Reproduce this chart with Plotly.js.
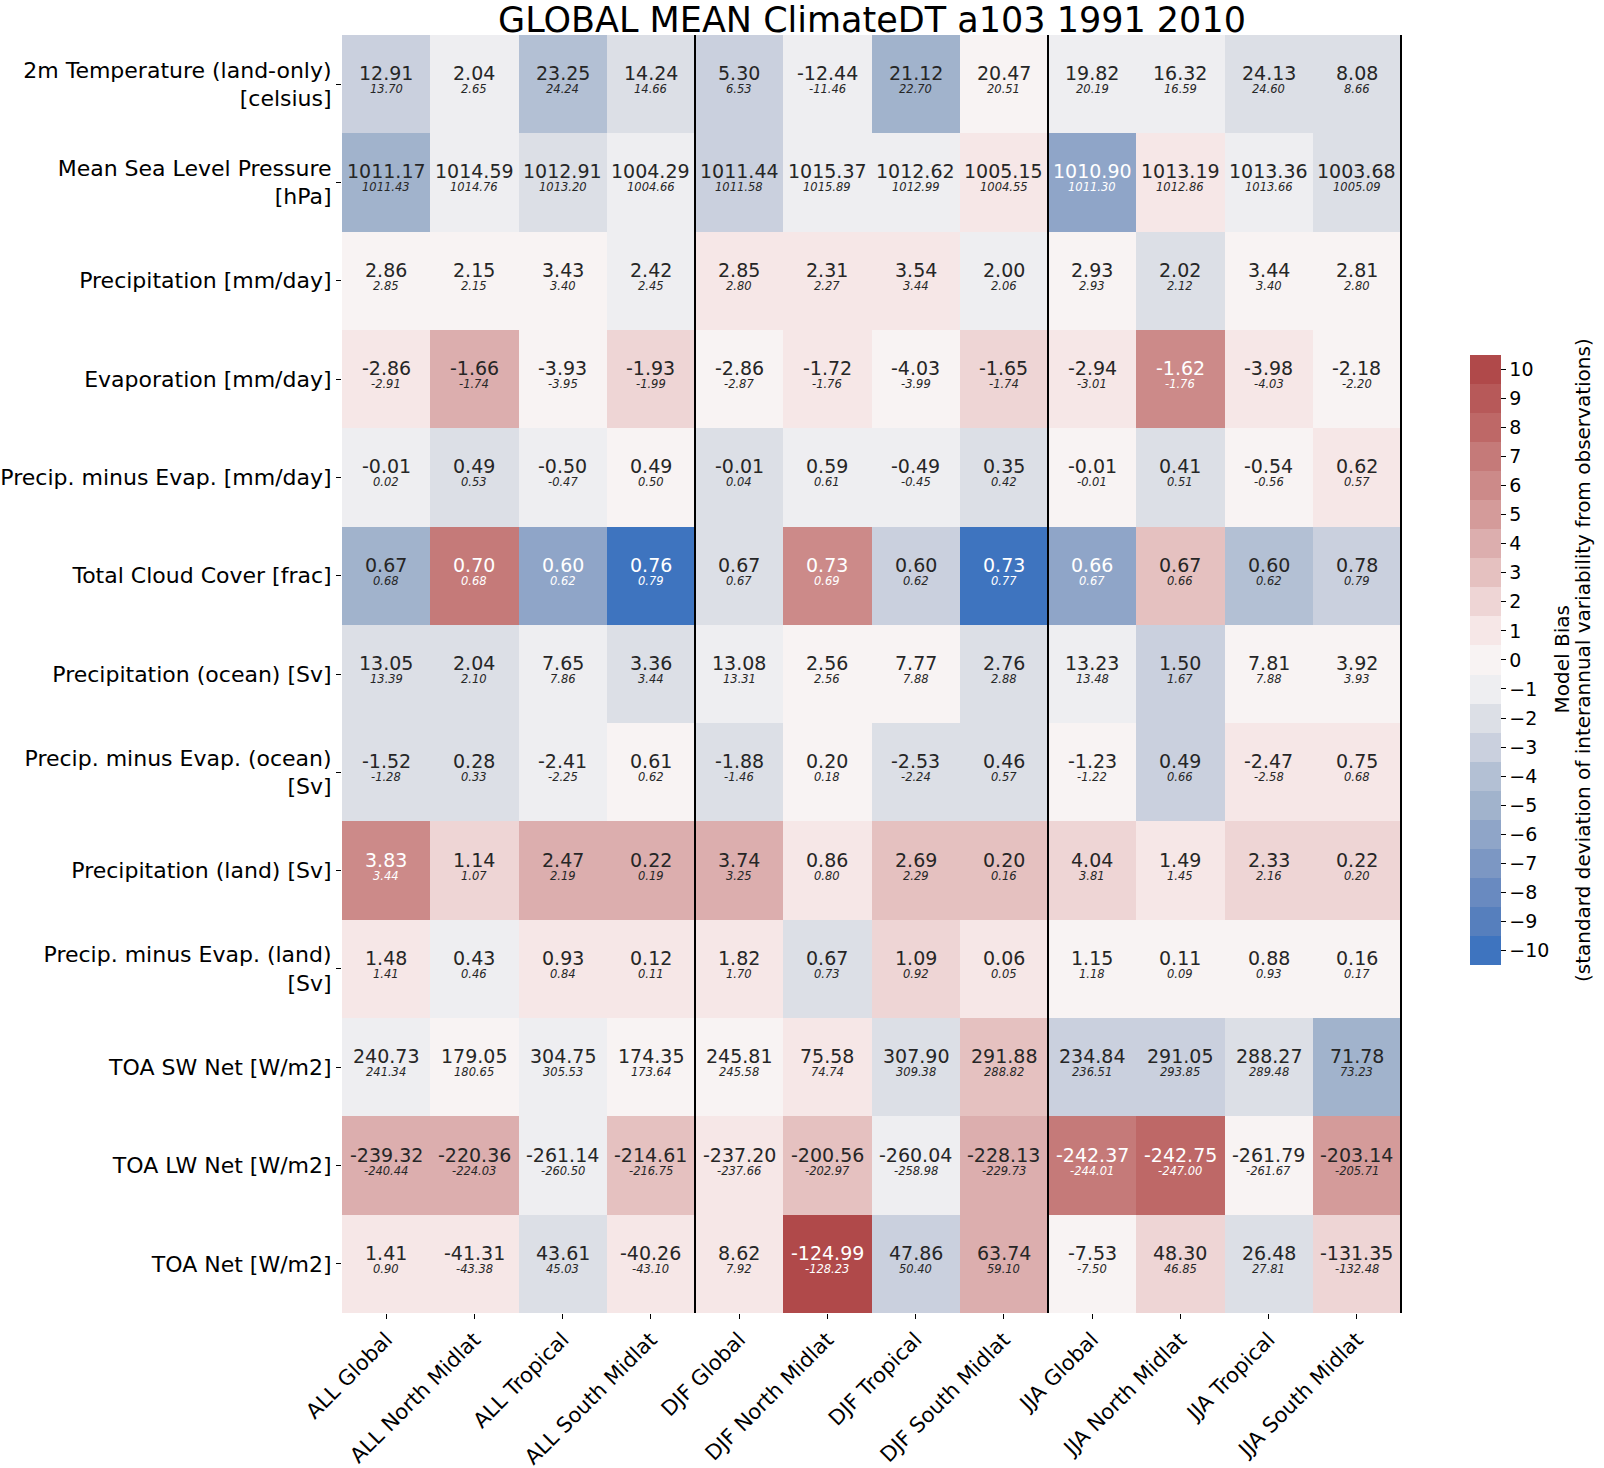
<!DOCTYPE html>
<html><head><meta charset="utf-8">
<script src="https://cdn.plot.ly/plotly-3.0.1.min.js"></script>
<style>html,body{margin:0;padding:0;background:#fff}#chart{width:1604px;height:1468px}</style>
</head><body><div id="chart"></div>
<script>
const columns = ["ALL Global","ALL North Midlat","ALL Tropical","ALL South Midlat",
  "DJF Global","DJF North Midlat","DJF Tropical","DJF South Midlat",
  "JJA Global","JJA North Midlat","JJA Tropical","JJA South Midlat"];
const rows = ["2m Temperature (land-only)<br>[celsius]","Mean Sea Level Pressure<br>[hPa]",
  "Precipitation [mm/day]","Evaporation [mm/day]","Precip. minus Evap. [mm/day]",
  "Total Cloud Cover [frac]","Precipitation (ocean) [Sv]","Precip. minus Evap. (ocean)<br>[Sv]",
  "Precipitation (land) [Sv]","Precip. minus Evap. (land)<br>[Sv]","TOA SW Net [W/m2]",
  "TOA LW Net [W/m2]","TOA Net [W/m2]"];
const modelValues = [
  [12.91, 2.04, 23.25, 14.24, 5.30, -12.44, 21.12, 20.47, 19.82, 16.32, 24.13, 8.08],
  [1011.17, 1014.59, 1012.91, 1004.29, 1011.44, 1015.37, 1012.62, 1005.15, 1010.90, 1013.19, 1013.36, 1003.68],
  [2.86, 2.15, 3.43, 2.42, 2.85, 2.31, 3.54, 2.00, 2.93, 2.02, 3.44, 2.81],
  [-2.86, -1.66, -3.93, -1.93, -2.86, -1.72, -4.03, -1.65, -2.94, -1.62, -3.98, -2.18],
  [-0.01, 0.49, -0.50, 0.49, -0.01, 0.59, -0.49, 0.35, -0.01, 0.41, -0.54, 0.62],
  [0.67, 0.70, 0.60, 0.76, 0.67, 0.73, 0.60, 0.73, 0.66, 0.67, 0.60, 0.78],
  [13.05, 2.04, 7.65, 3.36, 13.08, 2.56, 7.77, 2.76, 13.23, 1.50, 7.81, 3.92],
  [-1.52, 0.28, -2.41, 0.61, -1.88, 0.20, -2.53, 0.46, -1.23, 0.49, -2.47, 0.75],
  [3.83, 1.14, 2.47, 0.22, 3.74, 0.86, 2.69, 0.20, 4.04, 1.49, 2.33, 0.22],
  [1.48, 0.43, 0.93, 0.12, 1.82, 0.67, 1.09, 0.06, 1.15, 0.11, 0.88, 0.16],
  [240.73, 179.05, 304.75, 174.35, 245.81, 75.58, 307.90, 291.88, 234.84, 291.05, 288.27, 71.78],
  [-239.32, -220.36, -261.14, -214.61, -237.20, -200.56, -260.04, -228.13, -242.37, -242.75, -261.79, -203.14],
  [1.41, -41.31, 43.61, -40.26, 8.62, -124.99, 47.86, 63.74, -7.53, 48.30, 26.48, -131.35]
];
const obsValues = [
  [13.70, 2.65, 24.24, 14.66, 6.53, -11.46, 22.70, 20.51, 20.19, 16.59, 24.60, 8.66],
  [1011.43, 1014.76, 1013.20, 1004.66, 1011.58, 1015.89, 1012.99, 1004.55, 1011.30, 1012.86, 1013.66, 1005.09],
  [2.85, 2.15, 3.40, 2.45, 2.80, 2.27, 3.44, 2.06, 2.93, 2.12, 3.40, 2.80],
  [-2.91, -1.74, -3.95, -1.99, -2.87, -1.76, -3.99, -1.74, -3.01, -1.76, -4.03, -2.20],
  [0.02, 0.53, -0.47, 0.50, 0.04, 0.61, -0.45, 0.42, -0.01, 0.51, -0.56, 0.57],
  [0.68, 0.68, 0.62, 0.79, 0.67, 0.69, 0.62, 0.77, 0.67, 0.66, 0.62, 0.79],
  [13.39, 2.10, 7.86, 3.44, 13.31, 2.56, 7.88, 2.88, 13.48, 1.67, 7.88, 3.93],
  [-1.28, 0.33, -2.25, 0.62, -1.46, 0.18, -2.24, 0.57, -1.22, 0.66, -2.58, 0.68],
  [3.44, 1.07, 2.19, 0.19, 3.25, 0.80, 2.29, 0.16, 3.81, 1.45, 2.16, 0.20],
  [1.41, 0.46, 0.84, 0.11, 1.70, 0.73, 0.92, 0.05, 1.18, 0.09, 0.93, 0.17],
  [241.34, 180.65, 305.53, 173.64, 245.58, 74.74, 309.38, 288.82, 236.51, 293.85, 289.48, 73.23],
  [-240.44, -224.03, -260.50, -216.75, -237.66, -202.97, -258.98, -229.73, -244.01, -247.00, -261.67, -205.71],
  [0.90, -43.38, 45.03, -43.10, 7.92, -128.23, 50.40, 59.10, -7.50, 46.85, 27.81, -132.48]
];
const modelBias = [
  [-3, -1, -4, -2, -3, -1, -5, 0, -1, -1, -2, -2],
  [-5, -1, -2, -1, -3, -1, -1, 1, -6, 1, -1, -2],
  [0, 0, 0, -1, 1, 1, 1, -1, 0, -2, 0, 0],
  [1, 4, 0, 2, 0, 1, 0, 2, 1, 6, 1, 0],
  [-1, -2, -1, 0, -2, -1, -1, -2, 0, -2, 0, 1],
  [-5, 7, -6, -10, -2, 6, -3, -10, -6, 3, -4, -3],
  [-2, -2, -1, -2, -1, 0, 0, -2, -1, -3, 0, 0],
  [-2, -2, -1, 0, -2, 0, -2, -2, 0, -3, 1, 1],
  [6, 2, 4, 4, 4, 1, 3, 3, 2, 1, 2, 2],
  [1, -1, 1, 1, 1, -2, 2, 1, 0, 0, 0, 0],
  [-1, 0, -1, 0, 0, 1, -2, 3, -3, -3, -2, -5],
  [4, 4, -1, 3, 1, 3, -1, 4, 7, 8, 0, 5],
  [1, 1, -2, 1, 1, 10, -3, 4, 0, 2, -2, 2]
];
const colorbarTicks = [-10,-9,-8,-7,-6,-5,-4,-3,-2,-1,0,1,2,3,4,5,6,7,8,9,10];
const colorbarTitle = ["Model Bias", "(standard deviation of interannual variability from observations)"];

// 21 discrete colour levels, from -10 up to +10
const levelColors = ["#3e74bf","#567fbd","#698ac0","#7c97c3","#8fa5c8","#a1b3cc","#b3c0d4","#cad0de","#dcdfe6","#eeeef1",
  "#f8f3f3","#f6e7e7","#eed5d5","#e5c1c0","#dcaeae","#d49b9a","#cc8a89","#c57a79","#be6867","#b75959","#b0494a"];
const colorscale = [];
levelColors.forEach((c, i) => { colorscale.push([i/21, c]); colorscale.push([(i+1)/21, c]); });

const FONT = "DejaVu Sans";
const annotations = [];
rows.forEach((r, i) => {
  columns.forEach((c, j) => {
    const col = Math.abs(modelBias[i][j]) >= 6 ? "#ffffff" : "#262626";
    annotations.push({x: c, y: r, xref: "x", yref: "y", text: modelValues[i][j].toFixed(2), showarrow: false,
      yshift: 11, font: {family: FONT, size: 19, color: col}});
    annotations.push({x: c, y: r, xref: "x", yref: "y", text: "<i>" + obsValues[i][j].toFixed(2) + "</i>", showarrow: false,
      yshift: -5, font: {family: FONT, size: 11.5, color: col}});
  });
});
// colour bar title, two rotated lines
[1.1505, 1.1709].forEach((xp, k) => {
  annotations.push({xref: "paper", yref: "paper", x: xp, y: 0.511, xanchor: "center", yanchor: "middle",
    text: colorbarTitle[k], textangle: -90, showarrow: false, font: {family: FONT, size: 20, color: "#000"}});
});

const trace = {
  type: "heatmap", x: columns, y: rows, z: modelBias,
  zmin: -10.5, zmax: 10.5, colorscale: colorscale, hoverinfo: "skip",
  colorbar: {
    x: 1.0642, xanchor: "left", y: 0.511, yanchor: "middle", len: 0.4773, lenmode: "fraction",
    ypad: 0, xpad: 0,
    thickness: 31, outlinewidth: 0, ticks: "outside", ticklen: 5, tickcolor: "#000",
    tickvals: colorbarTicks, ticktext: colorbarTicks.map(v => v < 0 ? "\u2212" + Math.abs(v) : String(v)),
    tickfont: {family: FONT, size: 19, color: "#000"}
  }
};

const shapes = [3.5, 7.5, 11.5].map(v => ({type: "line", xref: "x", yref: "paper", x0: v, x1: v, y0: 0, y1: 1,
  line: {color: "#000", width: 2}}));

const layout = {
  width: 1604, height: 1468,
  margin: {l: 342, r: 202, t: 35, b: 155, autoexpand: false},
  paper_bgcolor: "#fff", plot_bgcolor: "#fff",
  font: {family: FONT, color: "#000"},
  title: {text: "GLOBAL MEAN ClimateDT a103 1991 2010", font: {family: FONT, size: 35, color: "#000"},
    xref: "paper", x: 0.5, xanchor: "center", yref: "container", y: 1 - 20/1468, yanchor: "middle"},
  xaxis: {type: "category", tickangle: -45, ticks: "outside", ticklen: 5, tickcolor: "#000",
    tickfont: {family: FONT, size: 21, color: "#000"}, showgrid: false, zeroline: false, showline: false, automargin: false},
  yaxis: {type: "category", autorange: "reversed", ticks: "outside", ticklen: 5, tickcolor: "#000",
    tickfont: {family: FONT, size: 22, color: "#000"}, showgrid: false, zeroline: false, showline: false, automargin: false},
  annotations: annotations, shapes: shapes
};

Plotly.newPlot("chart", [trace], layout, {displayModeBar: false, staticPlot: true});
</script>
</body></html>
